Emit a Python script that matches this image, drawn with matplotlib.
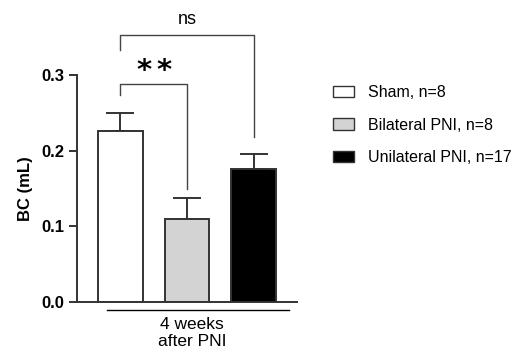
import matplotlib
matplotlib.use("Agg")
import matplotlib.pyplot as plt
from matplotlib.patches import Patch

plt.rcParams["font.family"] = ["Liberation Sans", "DejaVu Sans"]

groups = ["Sham, n=8", "Bilateral PNI, n=8", "Unilateral PNI, n=17"]
means = [0.226, 0.110, 0.176]
sems = [0.024, 0.027, 0.020]
colors = ["white", "#d3d3d3", "black"]
yticks = [0.0, 0.1, 0.2, 0.3]
xlabel_lines = "4 weeks\nafter PNI"

fig = plt.figure(figsize=(5.29, 3.54), dpi=100)
ax = fig.add_axes([0.1456, 0.1469, 0.4159, 0.6412])

x = range(len(means))
edge = "#333333"
ax.bar(x, means, width=0.67, color=colors, edgecolor=edge, linewidth=1.4, zorder=2)
# upward-only error bars
ax.errorbar(x, means, yerr=[[0] * len(sems), sems], fmt="none", ecolor=edge,
            elinewidth=1.4, capsize=10, capthick=1.4, zorder=1)

ax.set_xlim(-0.65, 2.65)
ax.set_ylim(0, 0.3)
ax.set_yticks(yticks)
ax.set_yticklabels([f"{t:.1f}" for t in yticks], fontweight="bold", fontsize=12)
ax.set_xticks([])
ax.set_ylabel("BC (mL)", fontweight="bold", fontsize=12, labelpad=6)
ax.spines[["top", "right"]].set_visible(False)
for s in ["left", "bottom"]:
    ax.spines[s].set_linewidth(1.4)
    ax.spines[s].set_color(edge)
ax.tick_params(axis="y", length=6, width=1.4, color=edge, pad=3)

# significance brackets
lc = "#444444"
ax.plot([0, 0, 1, 1], [0.2736, 0.288, 0.288, 0.149], color=lc, lw=1, clip_on=False)
for sx in [0.36, 0.65]:
    ax.text(sx, 0.305, "*", ha="center", va="center", fontsize=21, fontweight="bold",
            family="DejaVu Sans", clip_on=False)
ax.plot([0, 0, 2, 2], [0.333, 0.353, 0.353, 0.218], color=lc, lw=1, clip_on=False)
ax.text(1.0, 0.374, "ns", ha="center", va="center", fontsize=13, clip_on=False)

# group line under bars
ax.plot([-0.2, 2.53], [-0.0106, -0.0106], color="black", lw=1, clip_on=False)
ax.text(1.08, -0.0195, xlabel_lines, ha="center", va="top", fontsize=12.5,
        linespacing=1.2, clip_on=False)

handles = [Patch(facecolor=c, edgecolor=edge, linewidth=1) for c in colors]
fig.legend(handles, groups, loc="upper left", bbox_to_anchor=(0.6295, 0.760),
           frameon=False, fontsize=11.5, handlelength=1.3, handleheight=0.7,
           labelspacing=1.1, handletextpad=0.9, borderpad=0, borderaxespad=0)

fig.savefig("out.png", dpi=100)
